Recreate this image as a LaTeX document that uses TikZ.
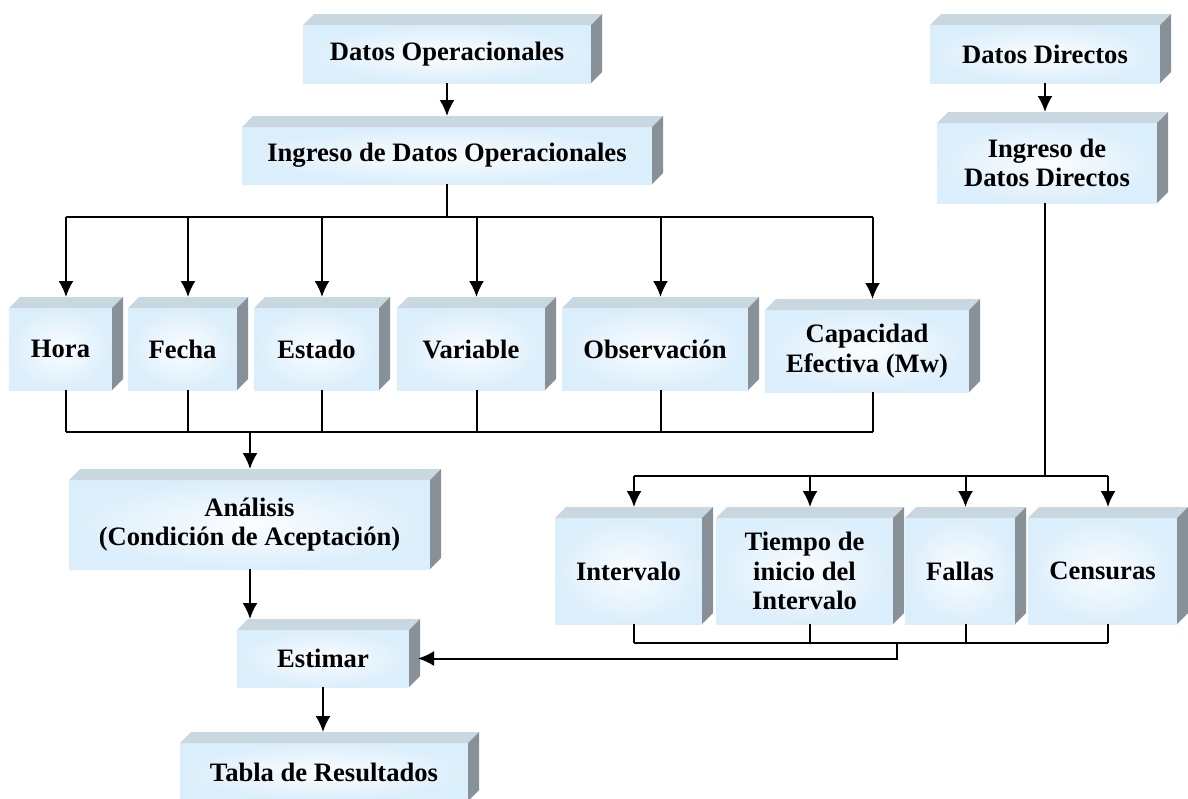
\documentclass[tikz,border=0pt]{standalone}
\usepackage{fontspec}
\setmainfont{Liberation Serif}
\usetikzlibrary{arrows.meta}

\definecolor{cajafondo}{RGB}{219,238,251}
\definecolor{cajatapa}{RGB}{201,216,224}
\definecolor{cajalado}{RGB}{137,145,152}

\newcommand{\prof}{11}
% caja 3D: nombre, x1, y1, x2, y2, texto
\newcommand{\caja}[6]{%
  \node[caja, minimum width={(#4-#2)*0.5pt}, minimum height={(#5-#3)*0.5pt}]
    (#1) at ({(#2+#4)/2},{(#3+#5)/2}) {#6};
  \fill[cajatapa] (#1.north west) -- ([shift={(\prof,-\prof)}]#1.north west)
    -- ([shift={(\prof,-\prof)}]#1.north east) -- (#1.north east) -- cycle;
  \fill[cajalado] (#1.north east) -- ([shift={(\prof,-\prof)}]#1.north east)
    -- ([shift={(\prof,-\prof)}]#1.south east) -- (#1.south east) -- cycle;
  \coordinate (#1-n) at ([shift={(\prof/2,-\prof)}]#1.north);
  \coordinate (#1-s) at ([shift={(\prof/2,0)}]#1.south);
}

\tikzset{
  caja/.style={inner sep=0pt, outer sep=0pt, align=center,
    shading=radial, inner color=cajafondo!12, outer color=cajafondo,
    font=\fontsize{13.3}{14.8}\selectfont\bfseries},
  linea/.style={line width=1pt},
  flecha/.style={line width=1pt, -{Latex[length=8pt,width=7.5pt]}}
}

\begin{document}
\begin{tikzpicture}[x=0.5pt, y=-0.5pt]
  \fill[white] (0,0) rectangle (1188,798);
  \useasboundingbox (0,0) rectangle (1188,798);
  % rama de datos operacionales
  \caja{dop}{303}{25}{591}{83}{Datos Operacionales}
  \caja{idop}{242}{127}{652}{184}{Ingreso de Datos Operacionales}
  % fila de variables
  \caja{hora}{9}{308}{112}{390}{Hora}
  \caja{fecha}{128}{308}{237}{390}{Fecha}
  \caja{estado}{254}{308}{379}{390}{Estado}
  \caja{variable}{397}{308}{545}{390}{Variable}
  \caja{obs}{562}{308}{748}{390}{Observación}
  \caja{cap}{765}{310}{969}{392}{Capacidad\\Efectiva (Mw)}
  \caja{ana}{69}{480}{430}{569}{Análisis\\(Condición de Aceptación)}
  \caja{est}{237}{630}{409}{687}{Estimar}
  \caja{tabla}{180}{743}{468}{801}{Tabla de Resultados}
  % rama de datos directos
  \caja{dd}{930}{25}{1160}{83}{Datos Directos}
  \caja{idd}{937}{123}{1157}{203}{Ingreso de\\Datos Directos}
  \caja{intv}{555}{518}{702}{624}{Intervalo}
  \caja{tiempo}{716}{518}{893}{624}{Tiempo de\\inicio del\\Intervalo}
  \caja{fallas}{905}{518}{1015}{624}{Fallas}
  \caja{cens}{1028}{518}{1177}{624}{Censuras}

  \coordinate (busA) at (447,217);
  \coordinate (busB) at (250,432);
  \coordinate (busC) at (1045,476);
  \coordinate (busD) at (897,643);

  % conectores izquierda
  \draw[flecha] (dop.south) -- (dop.south |- idop-n);
  \draw[linea] (idop.south) -- (idop.south |- busA);
  \draw[linea] (busA -| hora-n) -- (busA -| cap-n);
  \foreach \c in {hora,fecha,estado,variable,obs,cap}
    \draw[flecha] (busA -| \c-n) -- (\c-n);
  \foreach \c in {hora,fecha,estado,variable,obs,cap}
    \draw[linea] (\c-s) -- (\c-s |- busB);
  \draw[linea] (busB -| hora-s) -- (busB -| cap-s);
  \draw[flecha] (busB) -- (busB |- ana-n);
  \draw[flecha] (busB |- ana.south) -- (busB |- est-n);
  \draw[flecha] (est.south) -- (est.south |- tabla-n);
  % conectores derecha
  \draw[flecha] (dd.south) -- (dd.south |- idd-n);
  \draw[linea] (busC |- idd.south) -- (busC);
  \draw[linea] (busC -| intv-n) -- (busC -| cens-n);
  \foreach \c in {intv,tiempo,fallas,cens}
    \draw[flecha] (busC -| \c-n) -- (\c-n);
  \foreach \c in {intv,tiempo,fallas,cens}
    \draw[linea] (\c-s) -- (\c-s |- busD);
  \draw[linea] (busD -| intv-s) -- (busD -| cens-s);
  \draw[flecha] (busD) |- ([shift={(9,0)}]est.east);
\end{tikzpicture}
\end{document}
